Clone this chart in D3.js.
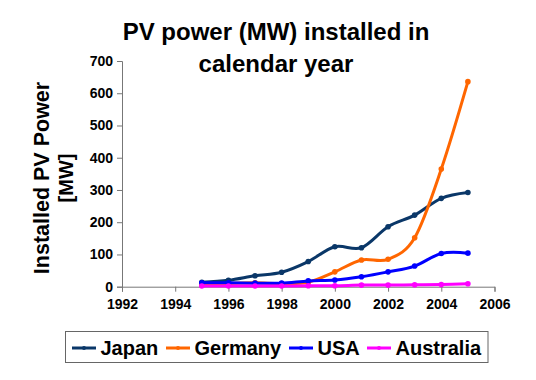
<!DOCTYPE html>
<html><head><meta charset="utf-8">
<script src="https://cdn.jsdelivr.net/npm/d3@7"></script>
<style>body{margin:0;background:#fff}svg{display:block;font-family:"Liberation Sans",Arial,sans-serif}</style>
</head><body><svg id="c" width="536" height="380"></svg>
<script>
const years = [1995,1996,1997,1998,1999,2000,2001,2002,2003,2004,2005];
const japan     = [14,20,34,45,78,124,121,186,222,274,292];
const germany   = [5,10,12,10,14,46,83,85,152,365,636];
const usa       = [12,12,11,11,18,21,31,46,64,103,104];
const australia = [2,2,2,2,3,3,5,5,6,7,9];
const seriesNames = ["Japan","Germany","USA","Australia"];
const seriesColors = ["#0a3768","#ff6600","#0000ff","#ff00ff"];
const xTicks = [1992,1994,1996,1998,2000,2002,2004,2006];
const yTicks = [0,100,200,300,400,500,600,700];
const titleLines = ["PV power (MW) installed in","calendar year"];
const yLabelLines = ["Installed PV Power","[MW]"];

const seriesValues = [japan, germany, usa, australia];
const svg = d3.select("#c");
const x = d3.scaleLinear().domain([1992,2006]).range([122,494.5]);
const y = d3.scaleLinear().domain([0,700]).range([286.7,61]);

// title
svg.append("text").attr("x",276).attr("y",40).attr("text-anchor","middle")
  .style("font-size","24px").style("font-weight","bold").text(titleLines[0]);
svg.append("text").attr("x",276).attr("y",72).attr("text-anchor","middle")
  .style("font-size","24px").style("font-weight","bold").text(titleLines[1]);

// y label
const yl = svg.append("g").attr("transform","translate(0,178) rotate(-90)");
yl.append("text").attr("x",0).attr("y",49).attr("text-anchor","middle")
  .style("font-size","21.5px").style("font-weight","bold").text(yLabelLines[0]);
yl.append("text").attr("x",0).attr("y",73).attr("text-anchor","middle")
  .style("font-size","20px").style("font-weight","bold").text(yLabelLines[1]);

// axes
const xAxis = svg.append("g").attr("transform","translate(0,"+y(0)+")")
  .call(d3.axisBottom(x).tickValues(xTicks).tickFormat(d3.format("d")).tickSizeOuter(0).tickSize(5).tickPadding(10));
const yAxis = svg.append("g").attr("transform","translate("+x(1992)+",0)")
  .call(d3.axisLeft(y).tickValues(yTicks).tickSizeOuter(0).tickSize(5).tickPadding(4));
[xAxis,yAxis].forEach(a=>{
  a.selectAll("path,line").attr("stroke","#777").attr("stroke-width",1);
  a.selectAll("text").style("font-size","14px").style("font-weight","bold")
   .style("font-family","'Liberation Sans',Arial,sans-serif").attr("fill","#000");
});
xAxis.selectAll("text").attr("dy","0.55em");

// lines
const line = d3.line().x((d,i)=>x(years[i])).y(d=>y(d)).curve(d3.curveCatmullRom.alpha(0));
seriesValues.forEach((vals,k)=>{
  svg.append("path").datum(vals).attr("d",line).attr("fill","none")
    .attr("stroke",seriesColors[k]).attr("stroke-width",3).attr("stroke-linejoin","round");
  svg.append("g").selectAll("circle").data(vals).join("circle")
    .attr("cx",(d,i)=>x(years[i])).attr("cy",d=>y(d)).attr("r",2.8).attr("fill",seriesColors[k]);
});

// legend
svg.append("rect").attr("x",65.5).attr("y",331.5).attr("width",422.5).attr("height",31)
  .attr("fill","#fff").attr("stroke","#666").attr("stroke-width",1);
const legX = [72,166,289,367];
seriesNames.forEach((n,k)=>{
  const g = svg.append("g").attr("transform","translate("+legX[k]+",348)");
  g.append("line").attr("x1",0).attr("x2",24).attr("y1",0).attr("y2",0)
    .attr("stroke",seriesColors[k]).attr("stroke-width",3);
  g.append("circle").attr("cx",12).attr("cy",0).attr("r",2).attr("fill",seriesColors[k]);
  g.append("text").attr("x",28.5).attr("y",7).style("font-size","20px").style("font-weight","bold").text(n);
});
</script></body></html>
